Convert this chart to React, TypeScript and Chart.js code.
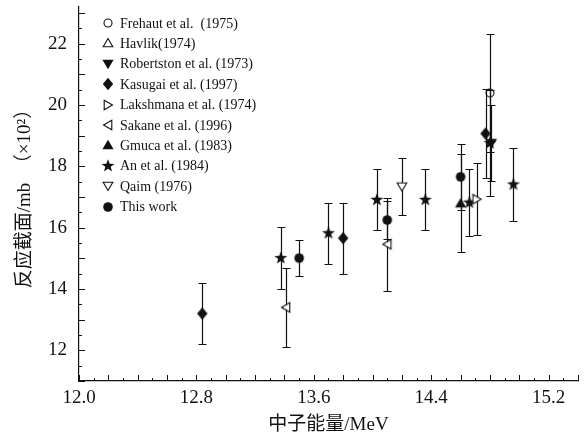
import React, { useEffect, useRef } from 'react';
import { Chart, registerables } from 'chart.js';

Chart.register(...registerables);

// ---- axes ----
const xMin = 12.0;
const xMax = 15.4;
const yMin = 11.0;
const yMax = 23.2;
const xTickLabels = [12.0, 12.8, 13.6, 14.4, 15.2];
const yTickLabels = [12, 14, 16, 18, 20, 22];
const xTitle = '中子能量/MeV';
const yTitle = '反应截面/mb  （×10²）';

// ---- series ----
const seriesNames = [
  'Frehaut et al.  (1975)',
  'Havlik(1974)',
  'Robertston et al. (1973)',
  'Kasugai et al. (1997)',
  'Lakshmana et al. (1974)',
  'Sakane et al. (1996)',
  'Gmuca et al. (1983)',
  'An et al. (1984)',
  'Qaim (1976)',
  'This work',
];
const seriesMarkers = [
  'openCircle', 'openUp', 'filledDown', 'diamond', 'openRight',
  'openLeft', 'filledUp', 'star', 'openDown', 'filledCircle',
];

const frehautX = [14.80];
const frehautY = [20.40];
const frehautErr = [1.92];

const havlikX: number[] = [];
const havlikY: number[] = [];
const havlikErr: number[] = [];

const robertstonX = [14.81];
const robertstonY = [18.76];
const robertstonErr = [1.24];

const kasugaiX = [12.84, 13.80, 14.77];
const kasugaiY = [13.20, 15.66, 19.07];
const kasugaiErr = [0.99, 1.16, 1.45];

const lakshmanaX = [14.71];
const lakshmanaY = [16.93];
const lakshmanaErr = [1.18];

const sakaneX = [13.41, 14.10];
const sakaneY = [13.40, 15.46];
const sakaneErr = [1.28, 1.52];

const gmucaX = [14.60];
const gmucaY = [16.80];
const gmucaErr = [1.60];

const anX = [13.375, 13.70, 14.03, 14.36, 14.66, 14.80, 14.96];
const anY = [15.01, 15.82, 16.91, 16.91, 16.82, 18.76, 17.41];
const anErr = [1.00, 1.00, 1.00, 1.00, 1.09, 1.72, 1.20];

const qaimX = [14.20];
const qaimY = [17.34];
const qaimErr = [0.92];

const thisWorkX = [13.50, 14.10, 14.60];
const thisWorkY = [15.01, 16.25, 17.66];
const thisWorkErr = [0.60, 0.63, 1.07];

const seriesX = [frehautX, havlikX, robertstonX, kasugaiX, lakshmanaX, sakaneX, gmucaX, anX, qaimX, thisWorkX];
const seriesY = [frehautY, havlikY, robertstonY, kasugaiY, lakshmanaY, sakaneY, gmucaY, anY, qaimY, thisWorkY];
const seriesErr = [frehautErr, havlikErr, robertstonErr, kasugaiErr, lakshmanaErr, sakaneErr, gmucaErr, anErr, qaimErr, thisWorkErr];

const INK = '#111';
const SERIF = '"Liberation Serif", "Times New Roman", "Noto Sans CJK SC", serif';

function makeMarker(kind: string): HTMLCanvasElement {
  const s = 16;
  const c = document.createElement('canvas');
  c.width = s;
  c.height = s;
  const ctx = c.getContext('2d')!;
  const cx = s / 2;
  const cy = s / 2;
  ctx.strokeStyle = INK;
  ctx.fillStyle = INK;
  ctx.lineWidth = 1.1;
  const poly = (pts: number[][], filled: boolean) => {
    ctx.beginPath();
    pts.forEach((p, i) => (i === 0 ? ctx.moveTo(cx + p[0], cy + p[1]) : ctx.lineTo(cx + p[0], cy + p[1])));
    ctx.closePath();
    if (filled) {
      ctx.fill();
    } else {
      ctx.fillStyle = '#fff';
      ctx.fill();
      ctx.stroke();
    }
  };
  switch (kind) {
    case 'openCircle':
      ctx.beginPath();
      ctx.arc(cx, cy, 4, 0, Math.PI * 2);
      ctx.stroke();
      break;
    case 'filledCircle':
      ctx.beginPath();
      ctx.arc(cx, cy, 4.8, 0, Math.PI * 2);
      ctx.fill();
      break;
    case 'openUp':
      poly([[0, -4.5], [4.8, 3.8], [-4.8, 3.8]], false);
      break;
    case 'filledUp':
      poly([[0, -5.2], [5.6, 4.3], [-5.6, 4.3]], true);
      break;
    case 'filledDown':
      poly([[-5.6, -4.3], [5.6, -4.3], [0, 5.2]], true);
      break;
    case 'openDown':
      poly([[-4.8, -3.8], [4.8, -3.8], [0, 4.5]], false);
      break;
    case 'openRight':
      poly([[-3.8, -4.8], [4.5, 0], [-3.8, 4.8]], false);
      break;
    case 'openLeft':
      poly([[3.8, -4.8], [-4.5, 0], [3.8, 4.8]], false);
      break;
    case 'diamond':
      poly([[0, -6.2], [5.2, 0], [0, 6.2], [-5.2, 0]], true);
      break;
    case 'star': {
      const pts: number[][] = [];
      for (let k = 0; k < 10; k++) {
        const r = k % 2 === 0 ? 6.8 : 2.8;
        const a = -Math.PI / 2 + (k * Math.PI) / 5;
        pts.push([r * Math.cos(a), r * Math.sin(a)]);
      }
      poly(pts, true);
      break;
    }
  }
  return c;
}

const errorBarPlugin = {
  id: 'errorBars',
  beforeDatasetsDraw(chart: any) {
    const { ctx } = chart;
    const xs = chart.scales.x;
    const ys = chart.scales.y;
    ctx.save();
    ctx.strokeStyle = INK;
    ctx.lineWidth = 1.2;
    chart.data.datasets.forEach((ds: any) => {
      ds.data.forEach((p: any, j: number) => {
        const e = ds.errors[j];
        const px = Math.round(xs.getPixelForValue(p.x)) + 0.5;
        const top = Math.round(ys.getPixelForValue(p.y + e)) + 0.5;
        const bot = Math.round(ys.getPixelForValue(p.y - e)) + 0.5;
        ctx.beginPath();
        ctx.moveTo(px, top);
        ctx.lineTo(px, bot);
        ctx.moveTo(px - 4, top);
        ctx.lineTo(px + 4, top);
        ctx.moveTo(px - 4, bot);
        ctx.lineTo(px + 4, bot);
        ctx.stroke();
      });
    });
    ctx.restore();
  },
};

const innerTicksPlugin = {
  id: 'innerTicks',
  afterDraw(chart: any) {
    const { ctx, chartArea } = chart;
    const xs = chart.scales.x;
    const ys = chart.scales.y;
    ctx.save();
    ctx.strokeStyle = INK;
    ctx.lineWidth = 1;
    ctx.beginPath();
    const nx = Math.round((xMax - xMin) / 0.1);
    for (let k = 0; k <= nx; k++) {
      const v = xMin + k * 0.1;
      const px = Math.round(xs.getPixelForValue(v)) + 0.5;
      const len = k % 2 === 0 ? 6 : 3;
      ctx.moveTo(px, chartArea.bottom);
      ctx.lineTo(px, chartArea.bottom - len);
    }
    const ny = Math.floor((yMax - yMin) / 0.5 + 1e-6);
    for (let k = 0; k <= ny; k++) {
      const v = yMin + k * 0.5;
      const py = Math.round(ys.getPixelForValue(v)) + 0.5;
      const len = k % 2 === 0 ? 6 : 3;
      ctx.moveTo(chartArea.left, py);
      ctx.lineTo(chartArea.left + len, py);
    }
    ctx.stroke();
    ctx.restore();
  },
};

const legendPlugin = {
  id: 'innerLegend',
  afterDraw(chart: any) {
    const { ctx, chartArea } = chart;
    ctx.save();
    ctx.font = `14px ${SERIF}`;
    ctx.fillStyle = INK;
    ctx.textBaseline = 'middle';
    ctx.textAlign = 'left';
    chart.data.datasets.forEach((ds: any, i: number) => {
      const y = chartArea.top + 16 + i * 20.4;
      const mx = chartArea.left + 29;
      const img = ds.pointStyle as HTMLCanvasElement;
      ctx.drawImage(img, Math.round(mx - img.width / 2), Math.round(y - img.height / 2));
      ctx.fillText(ds.label, chartArea.left + 41, y + 1);
    });
    ctx.restore();
  },
};

const zeroPad = (s: any) => {
  s.paddingTop = 0;
  s.paddingBottom = 0;
  s.paddingLeft = 0;
  s.paddingRight = 0;
};

export default function App() {
  const canvasRef = useRef<HTMLCanvasElement | null>(null);

  useEffect(() => {
    if (!canvasRef.current) return;
    const datasets = seriesNames.map((name, i) => ({
      label: name,
      data: seriesX[i].map((xv, j) => ({ x: xv, y: seriesY[i][j] })),
      errors: seriesErr[i],
      pointStyle: makeMarker(seriesMarkers[i]),
      pointRadius: 6,
      showLine: false,
    }));

    const chart = new Chart(canvasRef.current, {
      type: 'scatter',
      data: { datasets: datasets as any },
      options: {
        animation: false,
        responsive: false,
        maintainAspectRatio: false,
        layout: { padding: { top: 3, right: 5, left: 0, bottom: 0 } },
        plugins: {
          legend: { display: false },
          tooltip: { enabled: false },
        },
        scales: {
          x: {
            type: 'linear',
            min: xMin,
            max: xMax,
            grid: { display: false, drawTicks: false },
            border: { display: true, color: INK, width: 1.2 },
            afterBuildTicks: (s: any) => {
              s.ticks = xTickLabels.map((v) => ({ value: v }));
            },
            afterFit: (s: any) => {
              s.height = 55;
              zeroPad(s);
            },
            ticks: {
              autoSkip: false,
              maxRotation: 0,
              padding: 6,
              color: INK,
              font: { family: SERIF, size: 19 },
              callback: (v: any) => Number(v).toFixed(1),
            },
            title: {
              display: true,
              text: xTitle,
              color: INK,
              font: { family: SERIF, size: 19 },
              padding: { top: 0, bottom: 0 },
            },
          },
          y: {
            type: 'linear',
            min: yMin,
            max: yMax,
            grid: { display: false, drawTicks: false },
            border: { display: true, color: INK, width: 1.2 },
            afterBuildTicks: (s: any) => {
              s.ticks = yTickLabels.map((v) => ({ value: v }));
            },
            afterFit: (s: any) => {
              s.width = 79;
              zeroPad(s);
            },
            ticks: {
              autoSkip: false,
              padding: 12,
              color: INK,
              font: { family: SERIF, size: 19 },
              callback: (v: any) => String(v),
            },
            title: {
              display: true,
              text: yTitle,
              color: INK,
              font: { family: SERIF, size: 19 },
              padding: { top: 14, bottom: 0 },
            },
          },
        },
      },
      plugins: [errorBarPlugin, innerTicksPlugin, legendPlugin],
    });
    return () => chart.destroy();
  }, []);

  return (
    <div style={{ position: 'absolute', left: 0, top: 0, width: 585, height: 436, background: '#fff' }}>
      <canvas ref={canvasRef} width={585} height={436} style={{ display: 'block' }} />
    </div>
  );
}
